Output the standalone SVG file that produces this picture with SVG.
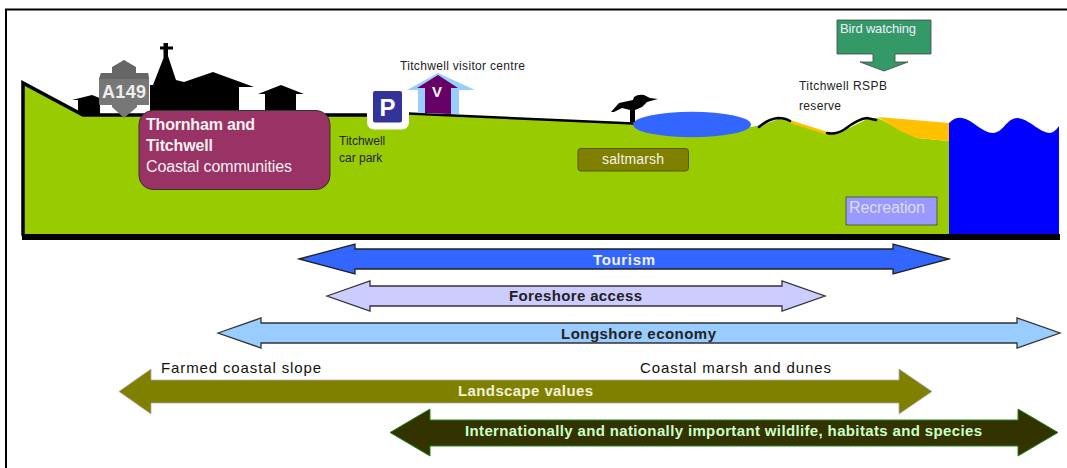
<svg xmlns="http://www.w3.org/2000/svg" width="1067" height="468" viewBox="0 0 1067 468">
<style>
text{font-family:"Liberation Sans",Arial,sans-serif}
.lab{font-size:12px;fill:#222}
.band{stroke-width:1.3;stroke-linejoin:miter}
.bt{font-size:15px;font-weight:bold;text-anchor:middle}
.sil{fill:#000}
.blk{fill:none;stroke:#000;stroke-linecap:round}
</style>
<rect width="1067" height="468" fill="#fff"/>
<path d="M6 468V9.500H1067" fill="none" stroke="#000" stroke-width="2"/>
<g id="landscape">
<path d="M23 83L83 115H367V115L408 114L634 124L751 127Q765 125 778 119L790 121L826 133L838 133Q850 128 867 119L878 118L917 138L949 141V235H23Z" fill="#99cc00"/>
<path d="M790 120L826 131.500L826 134.500L790 123Z" fill="#ffc000"/>
<path d="M878 117L949 123V141L917 138L900 131Z" fill="#ffc000"/>
<path id="sea" d="M949 123Q955 117 962 118C972 119 982 133 993 133C1003 133 1007 118 1017 118C1028 118 1040 133 1050 133Q1055 132 1059 126V234H949Z" fill="#0000ff"/>
<path class="blk" d="M23 235V83L83 115H368" stroke-width="3.500"/>
<path class="blk" d="M408 113.500L634 123.500" stroke-width="2.500"/>
<path class="blk" d="M759 127Q768 119 778 118Q785 118 790 121" stroke-width="2.500"/>
<path class="blk" d="M827 133Q836 135 845 129Q858 119 867 118L876 120" stroke-width="2.500"/>
<rect x="22" y="234" width="1038" height="6" fill="#000"/>
<ellipse cx="692" cy="124.500" rx="59" ry="12.800" fill="#3366ff"/>
</g>
<g id="village">
<path class="sil" d="M72 100L92 95L105 100H100V114H78V100Z"/>
<path class="sil" d="M163.500 43H168V46.500H173V49.500H168V56L176 80L184 82L213 72L254 87H239V112H150V85H153L163.500 58V49.500H160V46.500H163.500Z"/>
<path class="sil" d="M258 94L281 85L304 94H296V112H265V94Z"/>
</g>
<g id="a149">
<path d="M112 73L124 60L136 73H148L149 79V105H137V107L124 118L112 107V105H99V79L101 73Z" fill="#777"/>
<path d="M101 73H148L149 79H99ZM112 67L124 60L136 67V73H112Z" fill="#666"/>
<text x="124" y="98" font-size="18" font-weight="bold" fill="#eee" text-anchor="middle" textLength="44">A149</text>
</g>
<g id="thornham">
<rect x="139" y="110.500" width="191" height="79" rx="14" fill="#993366" stroke="#333" stroke-width="1"/>
<text x="146" y="130" font-size="16" font-weight="bold" fill="#f4f0f0" textLength="109">Thornham and</text>
<text x="146" y="151" font-size="16" font-weight="bold" fill="#f4f0f0" textLength="67">Titchwell</text>
<text x="146" y="172" font-size="16" fill="#f4f0f0" textLength="146">Coastal communities</text>
</g>
<g id="car-park">
<rect x="367" y="88" width="42" height="41.500" rx="7" fill="#fff"/>
<rect x="373" y="91" width="29" height="31.500" rx="2" fill="#333399"/>
<text x="387.500" y="116" font-size="24" font-weight="bold" fill="#fff" text-anchor="middle">P</text>
<text class="lab" x="339" y="145">Titchwell</text>
<text class="lab" x="339" y="162">car park</text>
</g>
<g id="visitor-centre">
<path d="M407 90L438 73L475 90H459V114L418 113V90Z" fill="#99ccff"/>
<path d="M417 88L438 75L458 88H451V114L425 113V88Z" fill="#660066"/>
<text x="437" y="97" font-size="15" font-weight="bold" fill="#fff" text-anchor="middle">V</text>
<text class="lab" x="400" y="70" textLength="125">Titchwell visitor centre</text>
</g>
<g id="bird">
<path class="sil" d="M611 112L619 103L633 100L634 97Q638 94 644 95L650 98L658 99L647 102L642 107L635 110V122H630V110L622 108L614 112Z"/>
</g>
<g id="saltmarsh">
<rect x="578" y="148.500" width="110.500" height="22.500" rx="3" fill="#808000" stroke="#555500" stroke-width="1"/>
<text x="633" y="164" font-size="14" fill="#f4f4e8" text-anchor="middle" textLength="62">saltmarsh</text>
</g>
<g id="rspb">
<text class="lab" x="799" y="90" textLength="88">Titchwell RSPB</text>
<text class="lab" x="799" y="110" textLength="42">reserve</text>
</g>
<g id="bird-watching">
<path d="M837 20H931V54H895V62H908L884 71L860 62H873V54H837Z" fill="#339966" stroke="#444" stroke-width="0.800"/>
<text x="840" y="33" font-size="13" fill="#eef" textLength="76">Bird watching</text>
</g>
<g id="recreation">
<rect x="846" y="197" width="91" height="28" fill="#9999ff" stroke="#444" stroke-width="0.800"/>
<text x="849" y="213" font-size="16" fill="#dde" textLength="76">Recreation</text>
</g>
<g id="connectors">
<g id="tourism">
<path class="band" d="M299 259L355 244V249H893V244L949 259L893 274V269H355V274Z" fill="#3366ff" stroke="#222"/>
<text class="bt" x="624" y="265" fill="#f0f0ff" textLength="62">Tourism</text>
</g>
<g id="foreshore">
<path class="band" d="M327 296L370 281V286H782V281L825 296L782 311V306H370V311Z" fill="#ccccff" stroke="#333"/>
<text class="bt" x="575.500" y="301" fill="#222" textLength="133">Foreshore access</text>
</g>
<g id="longshore">
<path class="band" d="M218 333L261 318V323H1017V318L1060 333L1017 348V343H261V348Z" fill="#99ccff" stroke="#333"/>
<text class="bt" x="638.500" y="339" fill="#222" textLength="155">Longshore economy</text>
</g>
<g id="landscape-values">
<path d="M119 391.500L151 369V380H899V369L932 391.500L899 414V403H151V414Z" fill="#808000" stroke="#aab" stroke-width="0.800"/>
<text class="bt" x="525.500" y="396" fill="#f0f0d8" textLength="135">Landscape values</text>
</g>
<g id="wildlife">
<path d="M390 432.500L430 409V420H1018V409L1058 432.500L1018 456V446H430V456Z" fill="#333300" stroke="#228822" stroke-width="1"/>
<text class="bt" x="723.500" y="436" fill="#ccffcc" textLength="517">Internationally and nationally important wildlife, habitats and species</text>
</g>
</g>
<g id="zones">
<text x="161" y="373" font-size="15" fill="#111" textLength="160">Farmed coastal slope</text>
<text x="640" y="373" font-size="15" fill="#111" textLength="191">Coastal marsh and dunes</text>
</g>
</svg>
